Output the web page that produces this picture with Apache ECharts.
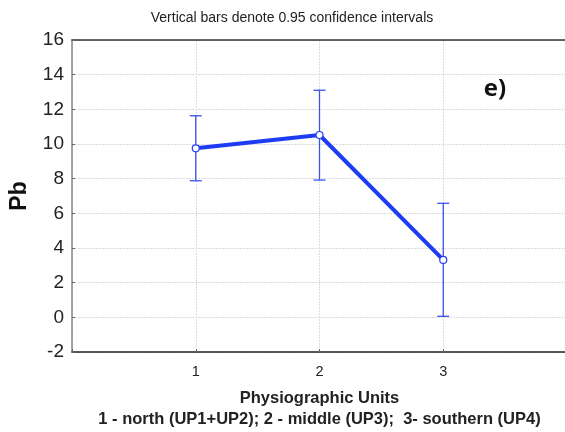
<!DOCTYPE html>
<html>
<head>
<meta charset="utf-8">
<script src="https://cdn.jsdelivr.net/npm/echarts@6/dist/echarts.min.js"></script>
<style>html,body{margin:0;padding:0;background:#fff;}#c{width:565px;height:432px;}</style>
</head>
<body>
<div id="c"></div>
<script>
const categories = [1, 2, 3];
const means = [9.75, 10.52, 3.31];
const lower = [7.88, 7.92, 0.06];
const upper = [11.63, 13.10, 6.58];
const yTicks = [-2, 0, 2, 4, 6, 8, 10, 12, 14, 16];

const chart = echarts.init(document.getElementById('c'), null, {renderer: 'canvas'});
const blue = '#1f3cf5';
const errBlue = '#3a52f0';

const errData = categories.map((c, i) => [c, lower[i], upper[i]]);
const lineData = categories.map((c, i) => [c, means[i]]);

chart.setOption({
  animation: false,
  backgroundColor: '#fff',
  title: {
    text: 'Vertical bars denote 0.95 confidence intervals',
    left: 287, top: 6, textAlign: 'center',
    textStyle: {fontFamily: 'Liberation Sans', fontSize: 14, fontWeight: 'normal', color: '#222'}
  },
  grid: {left: 72, top: 40, width: 495, height: 312, outerBoundsMode: 'none', containLabel: false},
  xAxis: [{
    type: 'value', min: 0, max: 4, interval: 1,
    name: 'Physiographic Units\n1 - north (UP1+UP2); 2 - middle (UP3);  3- southern (UP4)',
    nameLocation: 'middle', nameGap: 36,
    nameTextStyle: {fontFamily: 'Liberation Sans', fontSize: 16.5, fontWeight: 'bold', color: '#222', lineHeight: 21, verticalAlign: 'top'},
    axisLine: {show: true, onZero: false, lineStyle: {color: '#222', width: 1.5}},
    axisTick: {show: true, inside: true, length: 3, lineStyle: {color: '#666'}},
    axisLabel: {fontFamily: 'Liberation Sans', fontSize: 14.5, color: '#222', margin: 12,
      formatter: v => categories.indexOf(v) >= 0 ? String(v) : ''},
    splitLine: {show: true, lineStyle: {color: '#dcdcdc', width: 1, type: [2, 1]}}
  }, {
    type: 'value', min: 0, max: 4, position: 'top',
    axisLine: {show: true, onZero: false, lineStyle: {color: '#333', width: 1.5}},
    axisTick: {show: false}, axisLabel: {show: false}, splitLine: {show: false}
  }],
  yAxis: {
    type: 'value', min: yTicks[0], max: yTicks[yTicks.length - 1], interval: 2,
    name: 'Pb', nameLocation: 'middle', nameGap: 41,
    nameTextStyle: {fontFamily: 'Liberation Sans', fontSize: 23, fontWeight: 'bold', color: '#111'},
    axisLine: {show: true, onZero: false, lineStyle: {color: '#888', width: 1.5}},
    axisTick: {show: true, inside: true, length: 3, lineStyle: {color: '#666'}},
    axisLabel: {fontFamily: 'Liberation Sans', fontSize: 19, color: '#222', margin: 8},
    splitLine: {show: true, lineStyle: {color: '#dcdcdc', width: 1, type: [2, 1]}}
  },
  graphic: [{
    type: 'group', left: 463, top: 62, z: 100,
    children: [
      {type: 'rect', shape: {x: 0, y: 0, width: 70, height: 56}, style: {fill: '#fff'}},
      {type: 'text', x: 32, y: 27, style: {text: 'e)', fontFamily: 'Open Sans', fontWeight: 'bold', fontSize: 24, fill: '#111', align: 'center', verticalAlign: 'middle'}}
    ]
  }],
  series: [{
    type: 'custom',
    data: errData,
    z: 3,
    renderItem: function (params, api) {
      const x = api.value(0);
      const lo = api.coord([x, api.value(1)]);
      const hi = api.coord([x, api.value(2)]);
      const hw = 6;
      const st = {stroke: errBlue, lineWidth: 1.3};
      return {type: 'group', children: [
        {type: 'line', shape: {x1: lo[0], y1: lo[1], x2: hi[0], y2: hi[1]}, style: st},
        {type: 'line', shape: {x1: lo[0] - hw, y1: lo[1], x2: lo[0] + hw, y2: lo[1]}, style: st},
        {type: 'line', shape: {x1: hi[0] - hw, y1: hi[1], x2: hi[0] + hw, y2: hi[1]}, style: st}
      ]};
    }
  }, {
    type: 'line',
    data: lineData,
    z: 5,
    symbol: 'circle', symbolSize: 7,
    lineStyle: {color: blue, width: 4},
    itemStyle: {color: '#fff', borderColor: blue, borderWidth: 1.2},
    emphasis: {disabled: true}
  }]
});
</script>
</body>
</html>
